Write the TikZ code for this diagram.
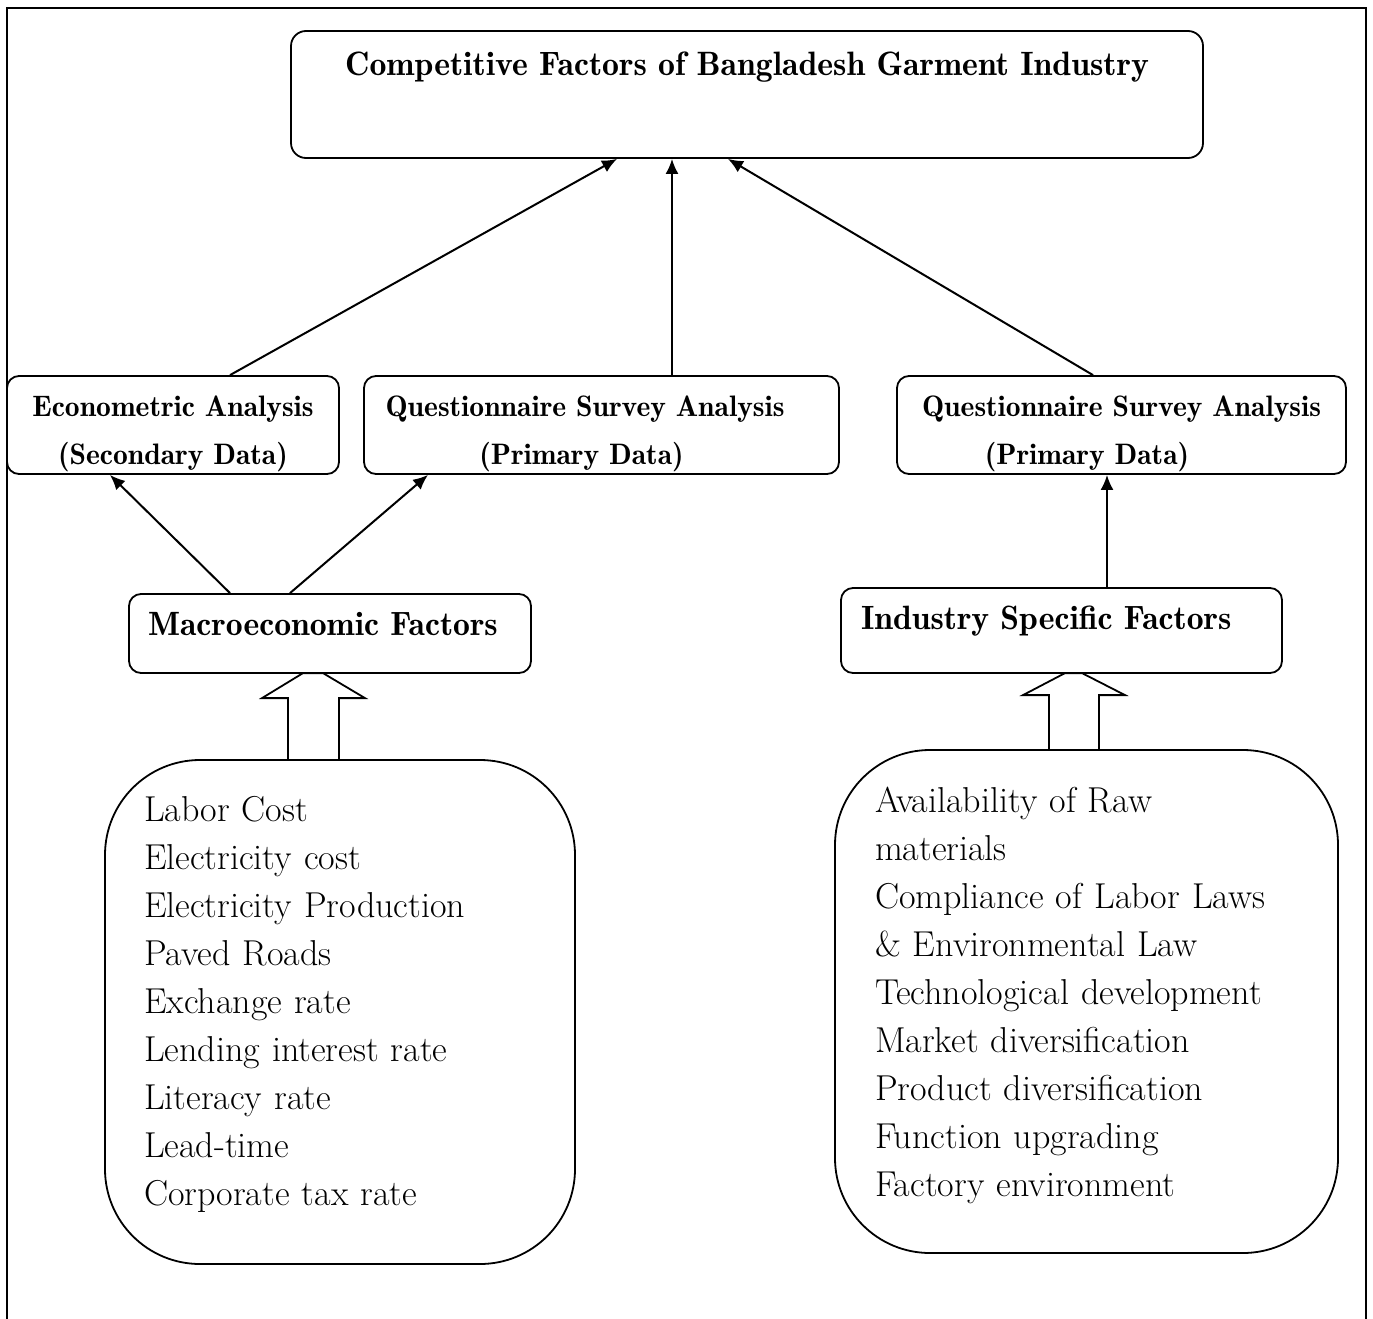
\documentclass[tikz,border=0pt]{standalone}
\usepackage{tikz}
\usetikzlibrary{arrows.meta}

\begin{document}
\begin{tikzpicture}[x=1pt, y=-1pt]
        % Setup the styles for the boxes
        \tikzset{head box/.style={draw,
                                  rounded corners=12pt,
                                  line width=1.8pt,
                                  inner sep=0pt,
                                  align=center,
                                  text height=40pt,
                                  text depth=58pt,
                                  font=\fontseries{b}\fontsize{29.6}{48}\selectfont},
                 factor box/.style={draw,
                                    rounded corners=12pt,
                                    line width=1.8pt,
                                    inner ysep=0pt,
                                    inner xsep=19pt,
                                    align=left,
                                    font=\fontseries{b}\fontsize{33.7}{38}\selectfont},
                 list box/.style={draw,
                                  rounded corners=95pt,
                                  line width=1.8pt,
                                  inner ysep=0pt,
                                  inner xsep=39pt,
                                  align=left,
                                  font=\fontsize{36}{48}\selectfont}}

        \useasboundingbox (0,0) rectangle (1373,1319);

        % Draw the frame
        \draw[line width=1.8pt] (7,1319) -- (7,8) -- (1366,8) -- (1366,1319);

        % Draw the boxes
        \node[head box, font=\fontseries{b}\fontsize{33.8}{38}\selectfont,
              text width=912pt, text height=45pt, text depth=82pt,
              rounded corners=15pt] at (747, 94.5) (title)
              {Competitive Factors of Bangladesh Garment Industry};
        \node[head box, text width=332pt] at (173, 425) (econ)
              {Econometric Analysis\\(Secondary Data)};
        \node[head box, text width=475pt] at (601.5, 425) (survey a)
              {\hspace*{-33pt}Questionnaire Survey Analysis\\\hspace*{-40pt}(Primary Data)};
        \node[head box, text width=449pt] at (1121.5, 425) (survey b)
              {Questionnaire Survey Analysis\\\hspace*{-69pt}(Primary Data)};
        \node[factor box, text width=364pt, text height=41pt, text depth=38pt] at (330, 633.5) (macro)
              {Macroeconomic Factors};
        \node[factor box, text width=401pt, inner xsep=20pt, text height=41pt, text depth=44pt] at (1061.5, 630.5) (industry)
              {Industry Specific Factors};
        \node[list box, text width=392pt, text height=61pt, text depth=443pt] at (340, 1012) (macro list)
              {Labor Cost\\
               Electricity cost\\
               Electricity Production\\
               Paved Roads\\
               Exchange rate\\
               Lending interest rate\\
               Literacy rate\\
               Lead-time\\
               Corporate tax rate};
        \node[list box, text width=423pt, inner xsep=40pt, text height=62pt, text depth=441pt] at (1086.5, 1001.5) (industry list)
              {Availability of Raw\\
               materials\\
               Compliance of Labor Laws\\
               \& Environmental Law\\
               Technological development\\
               Market diversification\\
               Product diversification\\
               Function upgrading\\
               Factory environment};

        % Draw the block arrows
        \draw[line width=1.8pt] ([xshift=-52pt]macro list.north) -- ++(0,-61) -- ++(-26,0)
              -- ++(41,-25) -- ++(20,0) -- ++(42,25) -- ++(-26,0) -- ++(0,61);
        \draw[line width=1.8pt] ([xshift=-37.5pt]industry list.north) -- ++(0,-54) -- ++(-26,0)
              -- ++(42,-22) -- ++(17,0) -- ++(43,22) -- ++(-26,0) -- ++(0,54);

        % Connect the boxes with arrows
        \path[-{Latex[length=15pt, width=13pt]},
              line width=2pt]
            ([xshift=57pt]econ.north)        edge ([xshift=-130pt]title.south)
            ([xshift=70.5pt]survey a.north)  edge ([xshift=-75pt]title.south)
            ([xshift=-28.5pt]survey b.north) edge ([xshift=-19pt]title.south)
            ([xshift=-100pt]macro.north)     edge ([xshift=-63pt]econ.south)
            ([xshift=-40pt]macro.north)      edge ([xshift=-173.5pt]survey a.south)
            ([xshift=45.5pt]industry.north)  edge ([xshift=-14.5pt]survey b.south);
\end{tikzpicture}
\end{document}
